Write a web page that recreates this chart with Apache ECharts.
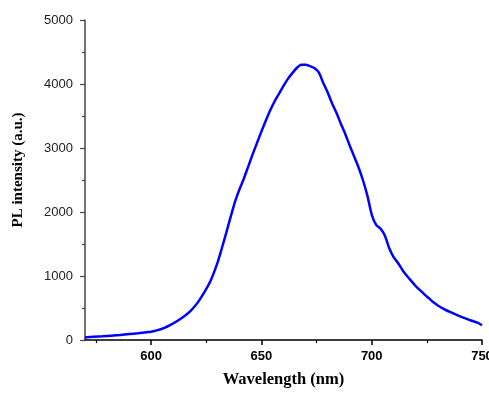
<!DOCTYPE html>
<html>
<head>
<meta charset="utf-8">
<script src="https://cdn.jsdelivr.net/npm/echarts@6/dist/echarts.min.js"></script>
<style>
html,body{margin:0;padding:0;background:#fff;}
#c{width:489px;height:393px;}
</style>
</head>
<body>
<div id="c"></div>
<script>
const wavelengths = [570,574,578,582,586,590,594,598,600,603,606,609,612,615,618,621,624,627,630,632,634,636,638,640,642,644,646,648,650,652,654,656,658,660,662,664,666,668,670,672,674,676,678,680,682,684,686,688,690,692,694,696,698,700,702,704,706,708,710,712,714,716,718,720,722,724,726,728,730,733,736,739,742,745,748,750];
const intensity = [40,50,58,68,78,92,105,122,130,155,190,240,300,370,460,580,740,930,1200,1430,1670,1920,2160,2350,2520,2710,2900,3080,3260,3430,3590,3730,3850,3970,4080,4170,4250,4300,4300,4280,4250,4180,4020,3870,3700,3550,3380,3220,3040,2870,2700,2500,2260,1960,1800,1740,1630,1430,1290,1200,1090,1000,920,840,775,710,650,590,540,480,430,385,345,305,270,230];
const xMajorTicks = [600,650,700,750];
const xMinorTicks = [575,625,675,725];
const xTitle = 'Wavelength (nm)';
const yTitle = 'PL intensity (a.u.)';

const chart = echarts.init(document.getElementById('c'));
const axisColor = '#000';
chart.setOption({
  animation: false,
  grid: {left: 85, right: 7, top: 20, bottom: 53, outerBoundsMode: 'none', containLabel: false},
  xAxis: [{
    type: 'value', min: 570, max: 750,
    name: xTitle, nameLocation: 'middle', nameGap: 31,
    nameTextStyle: {fontFamily: '"Liberation Serif", "Times New Roman", serif', fontWeight: 'bold', fontSize: 16.5, color: '#000'},
    axisLine: {show: true, onZero: false, lineStyle: {color: axisColor, width: 1.5}},
    axisTick: {show: true, inside: false, length: 5, customValues: xMajorTicks, lineStyle: {color: axisColor, width: 1.5}},
    axisLabel: {customValues: xMajorTicks, margin: 10, fontFamily: '"Liberation Sans", Arial, sans-serif', fontWeight: 'bold', fontSize: 13, color: '#000'},
    splitLine: {show: false}
  }, {
    type: 'value', min: 570, max: 750, position: 'bottom',
    axisLine: {show: false},
    axisTick: {show: true, inside: false, length: 3, customValues: xMinorTicks, lineStyle: {color: axisColor, width: 1.2}},
    axisLabel: {show: false},
    splitLine: {show: false}
  }],
  yAxis: {
    type: 'value', min: 0, max: 5000, interval: 1000,
    name: yTitle, nameLocation: 'middle', nameGap: 59, nameRotate: 90,
    nameTextStyle: {fontFamily: '"Liberation Serif", "Times New Roman", serif', fontWeight: 'bold', fontSize: 15, color: '#000', padding: [0, 0, 0, 20]},
    axisLine: {show: true, onZero: false, lineStyle: {color: '#444', width: 1.5}},
    axisTick: {show: true, inside: false, length: 5, lineStyle: {color: '#444', width: 1.2}},
    minorTick: {show: true, splitNumber: 2, length: 3, lineStyle: {color: '#444', width: 1.2}},
    axisLabel: {margin: 12, formatter: v => String(v), fontFamily: '"Liberation Sans", Arial, sans-serif', fontSize: 13, color: '#222'},
    splitLine: {show: false}
  },
  series: [{
    type: 'line', xAxisIndex: 0,
    data: wavelengths.map((w, i) => [w, intensity[i]]),
    showSymbol: false, symbol: 'none', smooth: 0.2,
    lineStyle: {color: '#0000ff', width: 2.5}
  }]
});
</script>
</body>
</html>
